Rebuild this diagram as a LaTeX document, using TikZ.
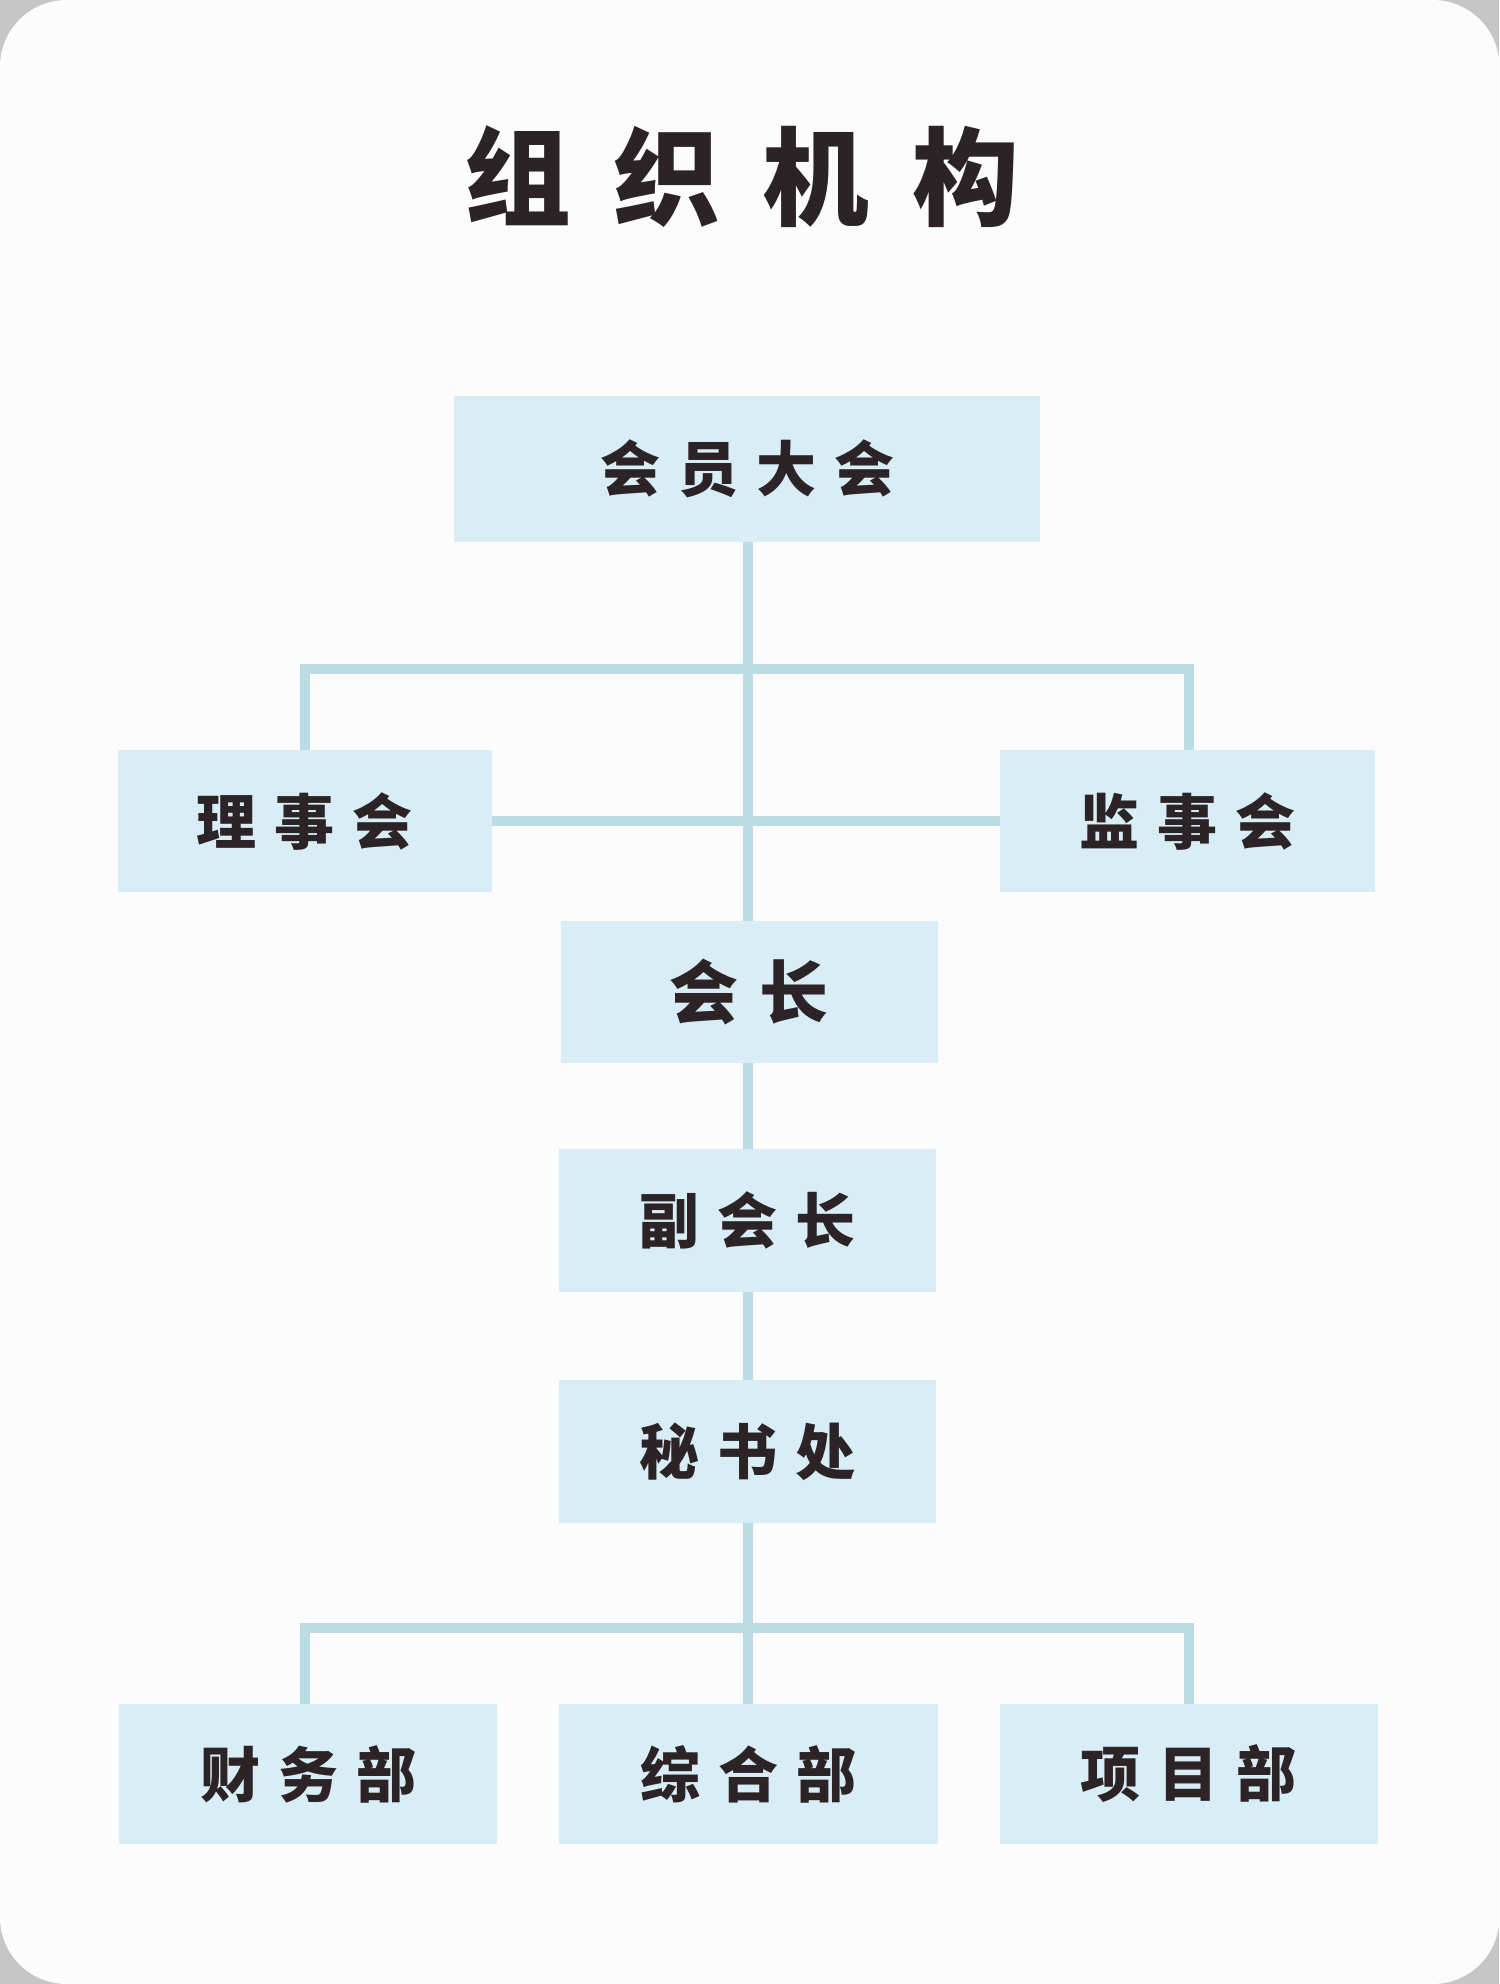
\documentclass[tikz,border=0pt]{standalone}
\usepackage{fontspec}
\newfontfamily\cjk{Noto Sans CJK SC}[BoldFont={* Black}]
\definecolor{boxc}{HTML}{D8EDF5}
\definecolor{linec}{HTML}{BCDCE5}
\definecolor{txt}{HTML}{2B2325}
\tikzset{
 org/.style={fill=boxc,draw=none,inner sep=0pt,font=\cjk\bfseries\fontsize{27}{27}\selectfont,text=txt},
 conn/.style={draw=linec,line width=4.5pt}
}
\newcommand{\bx}[6]{\fill[boxc] (#2,#3) rectangle (#4,#5); \node[org] (#1) at ({(#2+#4)/2},{(#3+#5)/2}) {#6};}
\begin{document}
\begin{tikzpicture}[x=0.02cm,y=-0.02cm]
\fill[gray!45] (0,0) rectangle (1185,1568);
\fill[white!98!gray] (0,0) [rounded corners=30] rectangle (1185,1568);
\useasboundingbox (0,0) rectangle (1185,1568);
\node[font=\cjk\bfseries\fontsize{48}{48}\selectfont,text=txt] (title) at (586,140) {组\hspace{0.4em}织\hspace{0.4em}机\hspace{0.4em}构};
% connectors
\coordinate (tl) at (241,529); \coordinate (tr) at (940,529); \coordinate (tm) at (591,529);
\coordinate (bl) at (241,1287); \coordinate (br) at (940,1287); \coordinate (bm) at (591,1287);
\draw[conn] (591,428) -- (591,728);
\draw[conn] (241,593) -- (tl) -- (tr) -- (940,593);
\draw[conn] (389,649) -- (790,649);
\draw[conn] (591,840) -- (591,908);
\draw[conn] (591,1021) -- (591,1091);
\draw[conn] (591,1204) -- (591,1347);
\draw[conn] (241,1347) -- (bl) -- (br) -- (940,1347);
% boxes
\bx{a}{359}{313}{822}{428}{会\hspace{0.3em}员\hspace{0.3em}大\hspace{0.3em}会}
\bx{b}{93}{593}{389}{705}{理\hspace{0.3em}事\hspace{0.3em}会}
\bx{c}{790}{593}{1087}{705}{监\hspace{0.3em}事\hspace{0.3em}会}
\bx{d}{443}{728}{741}{840}{\fontsize{31}{31}\selectfont 会\hspace{0.3em}长}
\bx{e}{442}{908}{740}{1021}{副\hspace{0.3em}会\hspace{0.3em}长}
\bx{f}{442}{1091}{740}{1204}{秘\hspace{0.3em}书\hspace{0.3em}处}
\bx{g}{94}{1347}{393}{1457}{财\hspace{0.3em}务\hspace{0.3em}部}
\bx{h}{442}{1347}{741}{1457}{综\hspace{0.3em}合\hspace{0.3em}部}
\bx{i}{790}{1347}{1089}{1457}{项\hspace{0.3em}目\hspace{0.3em}部}
\end{tikzpicture}
\end{document}
